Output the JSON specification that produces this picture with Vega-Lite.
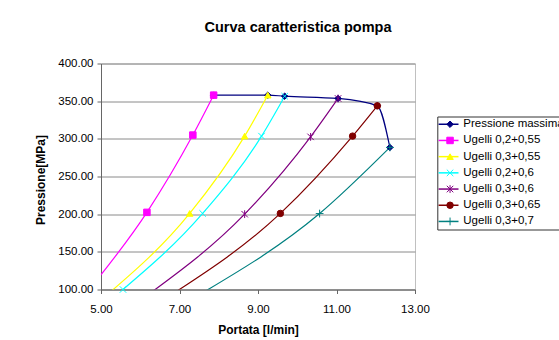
{
  "$schema": "https://vega.github.io/schema/vega-lite/v6.json",
  "width": 314,
  "height": 226,
  "autosize": "none",
  "padding": {"left": 101, "top": 63.5, "right": 144, "bottom": 50},
  "background": "white",
  "title": {
    "text": "Curva caratteristica pompa",
    "font": "Liberation Sans",
    "fontSize": 14.5,
    "fontWeight": "bold",
    "color": "black",
    "anchor": "middle",
    "frame": "group",
    "dx": 40,
    "baseline": "alphabetic",
    "offset": 11
  },
  "config": {
    "font": "Liberation Sans",
    "view": {"stroke": "#c0c0c0", "strokeWidth": 1},
    "axis": {
      "labelFont": "Liberation Sans",
      "labelFontSize": 11.5,
      "labelColor": "black",
      "labelFlush": false,
      "titleFont": "Liberation Sans",
      "titleFontSize": 12,
      "titleFontWeight": "bold",
      "titleColor": "black",
      "domainColor": "#666666",
      "tickColor": "#666666",
      "tickSize": 4
    },
    "legend": {
      "labelFont": "Liberation Sans",
      "labelFontSize": 11.5,
      "labelColor": "black"
    }
  },
  "datasets": {
    "curve": [
      {"serie": "Pressione massima", "Portata": 7.87, "Pressione": 358},
      {"serie": "Pressione massima", "Portata": 9.25, "Pressione": 358},
      {"serie": "Pressione massima", "Portata": 9.68, "Pressione": 356.6},
      {"serie": "Pressione massima", "Portata": 11.04, "Pressione": 353.6},
      {"serie": "Pressione massima", "Portata": 12.04, "Pressione": 343.8},
      {"serie": "Pressione massima", "Portata": 12.36, "Pressione": 288.6},
      {"serie": "Ugelli 0,2+0,55", "Portata": 4.7, "Pressione": 100},
      {"serie": "Ugelli 0,2+0,55", "Portata": 6.17, "Pressione": 202.4},
      {"serie": "Ugelli 0,2+0,55", "Portata": 7.34, "Pressione": 305},
      {"serie": "Ugelli 0,2+0,55", "Portata": 7.87, "Pressione": 358},
      {"serie": "Ugelli 0,3+0,55", "Portata": 5.2, "Pressione": 95},
      {"serie": "Ugelli 0,3+0,55", "Portata": 7.26, "Pressione": 201},
      {"serie": "Ugelli 0,3+0,55", "Portata": 8.66, "Pressione": 303.6},
      {"serie": "Ugelli 0,3+0,55", "Portata": 9.25, "Pressione": 358},
      {"serie": "Ugelli 0,2+0,6", "Portata": 5.56, "Pressione": 100},
      {"serie": "Ugelli 0,2+0,6", "Portata": 7.59, "Pressione": 201},
      {"serie": "Ugelli 0,2+0,6", "Portata": 9.09, "Pressione": 303.6},
      {"serie": "Ugelli 0,2+0,6", "Portata": 9.68, "Pressione": 356.6},
      {"serie": "Ugelli 0,3+0,6", "Portata": 6.25, "Pressione": 95},
      {"serie": "Ugelli 0,3+0,6", "Portata": 8.66, "Pressione": 200},
      {"serie": "Ugelli 0,3+0,6", "Portata": 10.34, "Pressione": 302.6},
      {"serie": "Ugelli 0,3+0,6", "Portata": 11.04, "Pressione": 353.6},
      {"serie": "Ugelli 0,3+0,65", "Portata": 6.85, "Pressione": 95},
      {"serie": "Ugelli 0,3+0,65", "Portata": 9.57, "Pressione": 201},
      {"serie": "Ugelli 0,3+0,65", "Portata": 11.41, "Pressione": 303.6},
      {"serie": "Ugelli 0,3+0,65", "Portata": 12.04, "Pressione": 343.8},
      {"serie": "Ugelli 0,3+0,7", "Portata": 7.6, "Pressione": 96},
      {"serie": "Ugelli 0,3+0,7", "Portata": 10.57, "Pressione": 200.8},
      {"serie": "Ugelli 0,3+0,7", "Portata": 12.36, "Pressione": 288.6}
    ]
  },
  "data": {"name": "curve"},
  "encoding": {
    "x": {
      "field": "Portata",
      "type": "quantitative",
      "title": "Portata [l/min]",
      "scale": {"domain": [5, 13], "nice": false, "zero": false},
      "axis": {
        "values": [5, 7, 9, 11, 13],
        "format": ".2f",
        "grid": false,
        "labelPadding": 10,
        "titlePadding": 9
      }
    },
    "y": {
      "field": "Pressione",
      "type": "quantitative",
      "title": "Pressione[MPa]",
      "scale": {"domain": [100, 400], "nice": false, "zero": false},
      "axis": {
        "values": [100, 150, 200, 250, 300, 350, 400],
        "format": ".2f",
        "grid": true,
        "gridColor": "#8a8a8a",
        "gridWidth": 1,
        "labelPadding": 4,
        "titleX": -61,
        "titleY": 116,
        "titleBaseline": "middle",
        "titleAlign": "center",
        "titleAngle": -90
      }
    }
  },
  "layer": [
    {
      "mark": {"type": "line", "clip": true, "interpolate": "monotone", "strokeWidth": 1.2},
      "encoding": {
        "stroke": {
          "field": "serie",
          "type": "nominal",
          "scale": {
            "domain": ["Pressione massima", "Ugelli 0,2+0,55", "Ugelli 0,3+0,55", "Ugelli 0,2+0,6", "Ugelli 0,3+0,6", "Ugelli 0,3+0,65", "Ugelli 0,3+0,7"],
            "range": ["#000080", "#FF00FF", "#FFFF00", "#00FFFF", "#800080", "#800000", "#008080"]
          },
          "legend": {
            "title": null,
            "orient": "none",
            "legendX": 336.3,
            "legendY": 53,
            "symbolType": "M-3,0L3,0",
            "symbolSize": 44,
            "symbolOffset": 3.5,
            "symbolStrokeWidth": 1.5,
            "strokeColor": "#333333",
            "fillColor": "white",
            "padding": 2,
            "rowPadding": 3.2,
            "labelOffset": 9
          }
        }
      }
    },
    {
      "transform": [{"filter": "datum.Portata >= 5 && datum.Pressione >= 100"}],
      "mark": {"type": "point", "filled": false, "size": 42, "strokeWidth": 1, "opacity": 1},
      "encoding": {
        "shape": {
          "field": "serie",
          "type": "nominal",
          "sort": ["Pressione massima", "Ugelli 0,2+0,55", "Ugelli 0,3+0,55", "Ugelli 0,2+0,6", "Ugelli 0,3+0,6", "Ugelli 0,3+0,65", "Ugelli 0,3+0,7"],
          "scale": {
            "range": ["diamond", "square", "triangle-up", "M-1,-1L1,1M-1,1L1,-1", "M-1,-1L1,1M-1,1L1,-1M0,-1.2L0,1.2", "circle", "M-1.2,0L1.2,0M0,-1.2L0,1.2"]
          },
          "legend": {
            "title": null,
            "orient": "none",
            "legendX": 341.3,
            "legendY": 53,
            "padding": 2,
            "rowPadding": 3.2,
            "labelOffset": 3,
            "labelExpr": "''",
            "symbolSize": 42,
            "symbolStrokeWidth": 1,
            "symbolFillColor": {"expr": "scale('fill', datum.value)"},
            "symbolStrokeColor": {"expr": "scale('stroke', datum.value)"}
          }
        },
        "fill": {
          "field": "serie",
          "type": "nominal",
          "sort": ["Pressione massima", "Ugelli 0,2+0,55", "Ugelli 0,3+0,55", "Ugelli 0,2+0,6", "Ugelli 0,3+0,6", "Ugelli 0,3+0,65", "Ugelli 0,3+0,7"],
          "scale": {"range": ["#000080", "#FF00FF", "#FFFF00", "#00FFFF", "#800080", "#800000", "#008080"]},
          "legend": null
        },
        "stroke": {
          "field": "serie",
          "type": "nominal"
        }
      }
    }
  ]
}
